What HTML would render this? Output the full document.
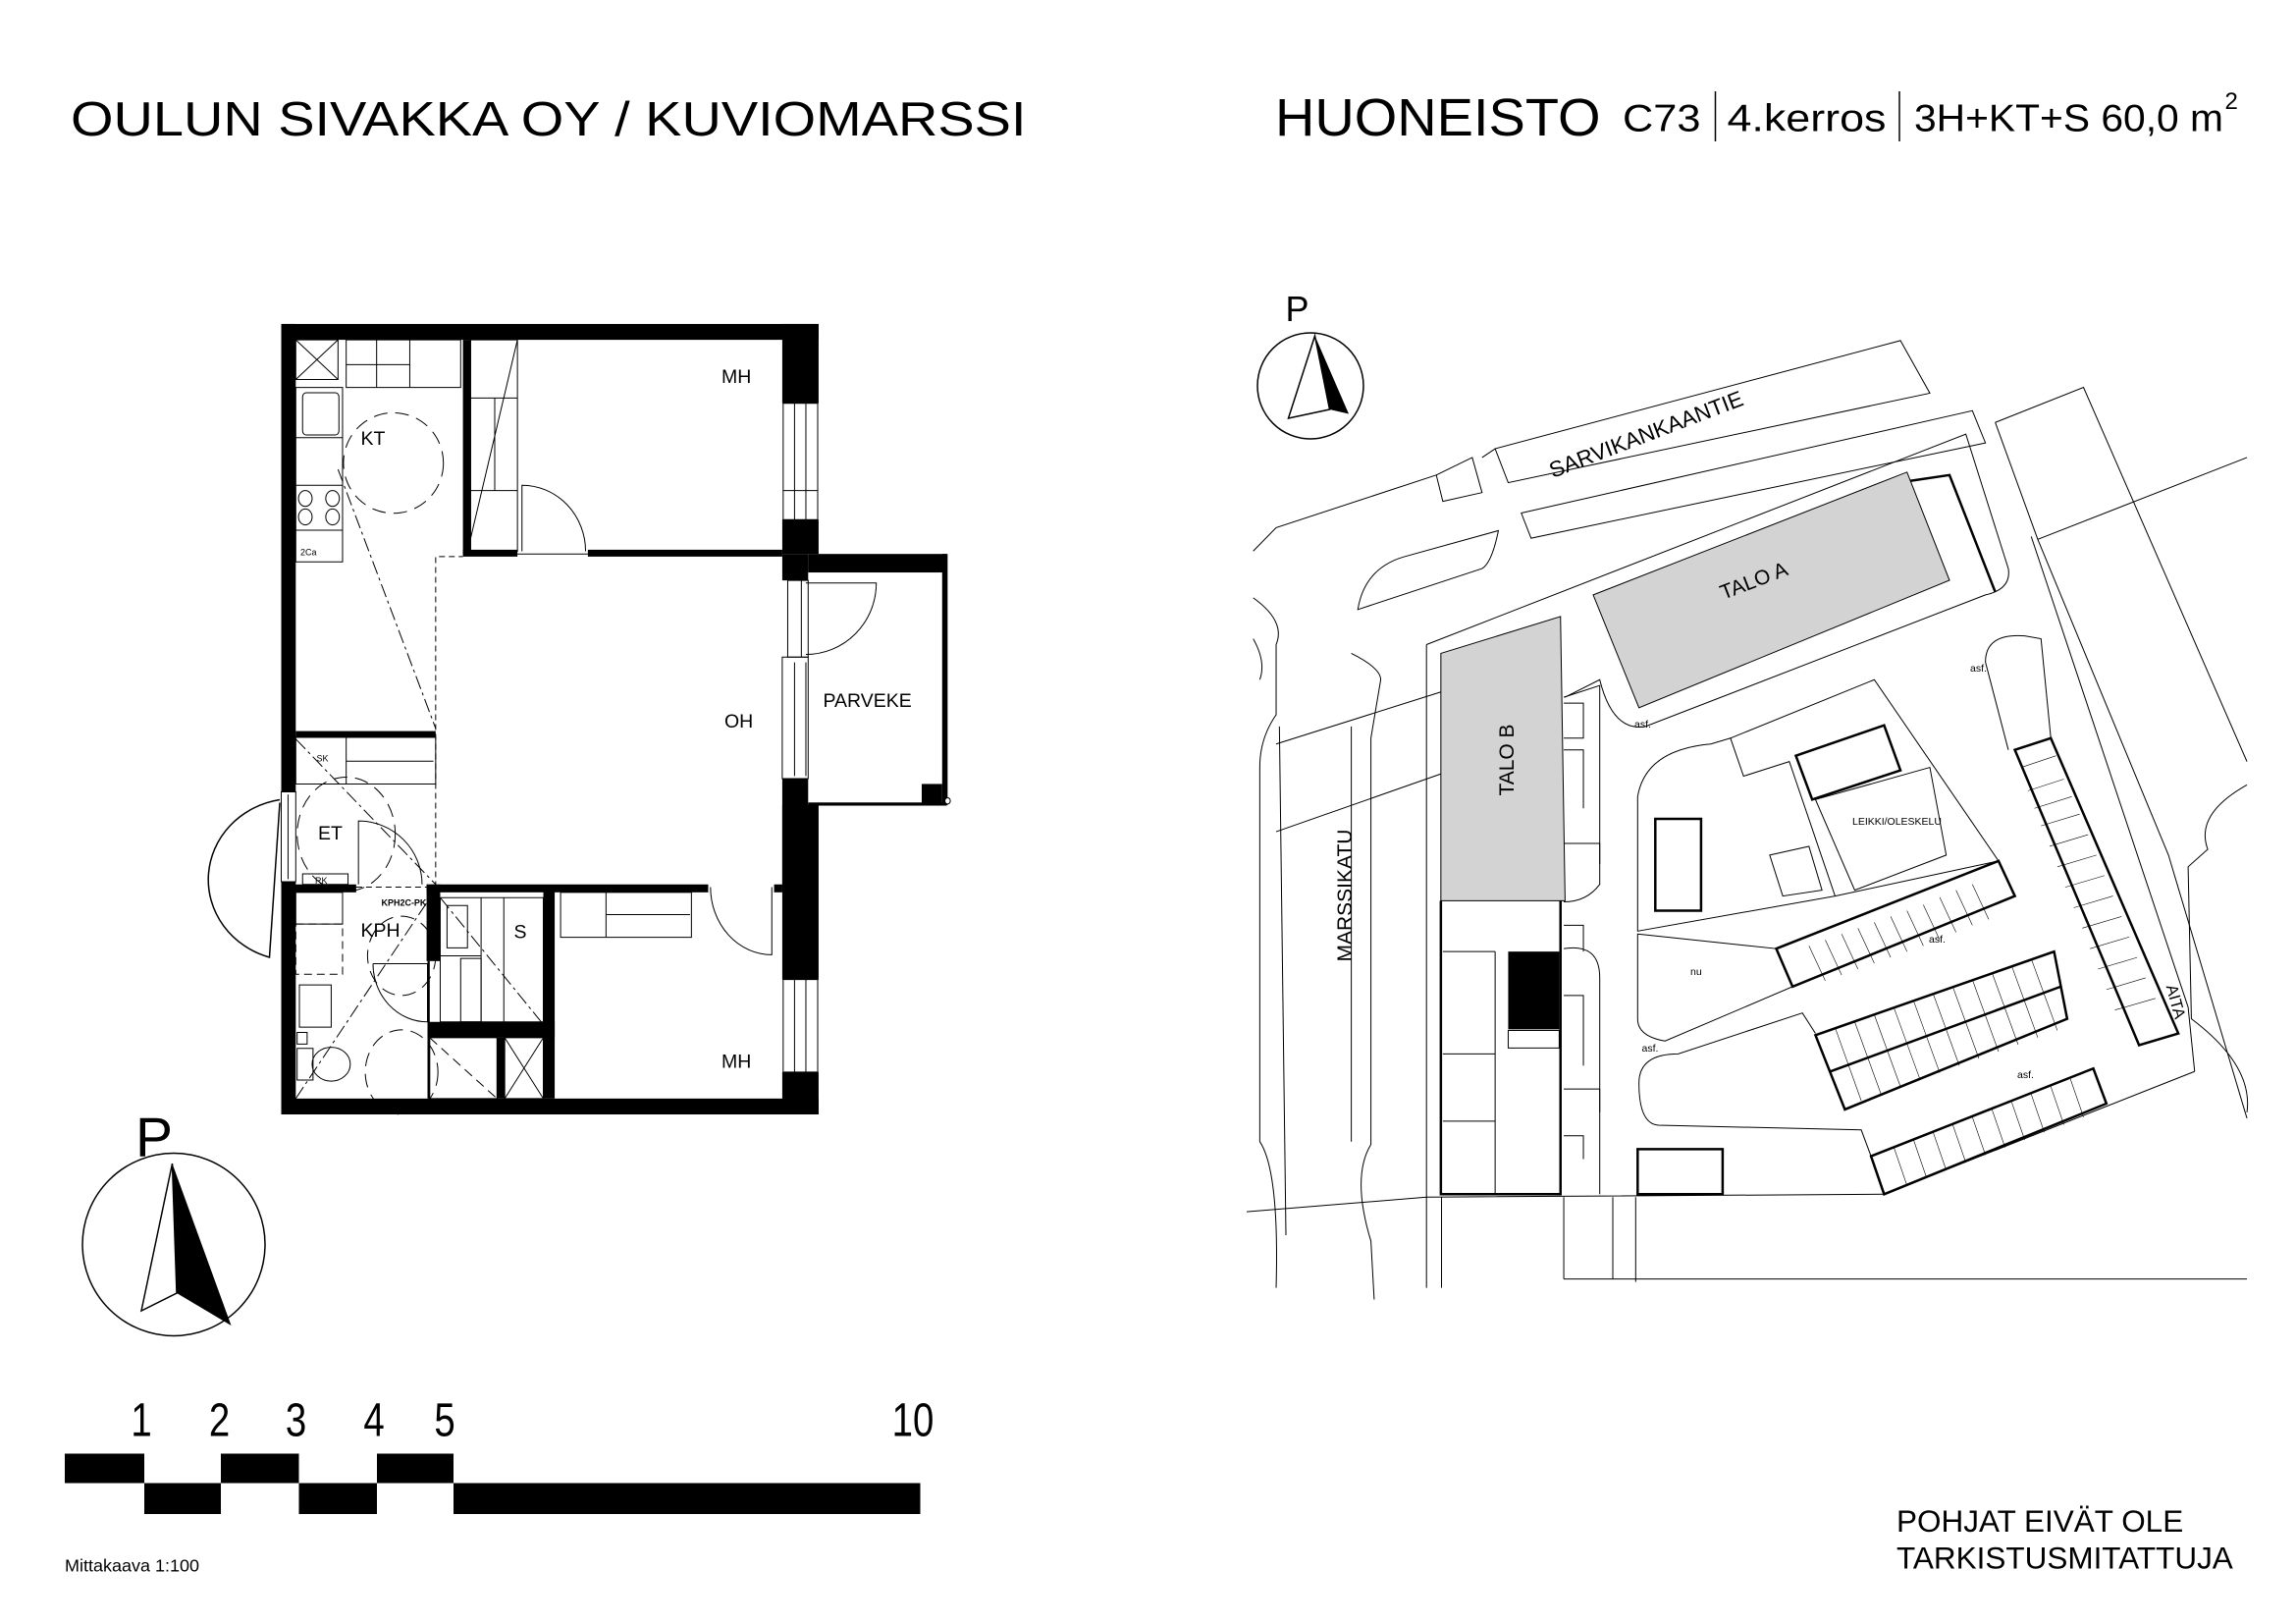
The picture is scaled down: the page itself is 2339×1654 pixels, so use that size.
<!DOCTYPE html>
<html><head><meta charset="utf-8"><style>
html,body{margin:0;padding:0;background:#fff}
svg{display:block}
text{font-family:"Liberation Sans",sans-serif;fill:#000}
</style></head><body>
<svg width="2339" height="1654" viewBox="0 0 1559.33 1102.67" xmlns="http://www.w3.org/2000/svg">
<rect width="1559.33" height="1102.67" fill="#fff"/>
<text x="48" y="92" font-size="33" textLength="649" lengthAdjust="spacingAndGlyphs">OULUN SIVAKKA OY / KUVIOMARSSI</text>
<text x="866" y="92" font-size="36" textLength="221" lengthAdjust="spacingAndGlyphs">HUONEISTO</text>
<text x="1102" y="89" font-size="26" textLength="53" lengthAdjust="spacingAndGlyphs">C73</text>
<line x1="1165" y1="62" x2="1165" y2="96" stroke="#000" stroke-width="1"/>
<text x="1173" y="89" font-size="26" textLength="108" lengthAdjust="spacingAndGlyphs">4.kerros</text>
<line x1="1290" y1="62" x2="1290" y2="96" stroke="#000" stroke-width="1"/>
<text x="1300" y="89" font-size="26" textLength="210" lengthAdjust="spacingAndGlyphs">3H+KT+S 60,0 m</text>
<text x="1511" y="74" font-size="16">2</text>

<g transform="translate(180.2,207.4) scale(0.3085,0.359)" fill="none" stroke="#000">
 <g fill="#000" stroke="none">
  <rect x="35" y="35" width="1183" height="30"/>
  <rect x="35" y="35" width="32" height="885"/>
  <rect x="35" y="1090" width="32" height="440"/>
  <rect x="35" y="1500" width="1183" height="30"/>
  <rect x="1138" y="35" width="80" height="150"/>
  <rect x="1138" y="405" width="80" height="65"/>
  <rect x="1138" y="470" width="57" height="50"/>
  <rect x="1138" y="895" width="57" height="205"/>
  <rect x="1138" y="945" width="80" height="330"/>
  <rect x="1138" y="1450" width="80" height="80"/>
  <rect x="1195" y="470" width="305" height="35"/>
  <rect x="1490" y="470" width="12" height="475"/>
  <rect x="1195" y="940" width="305" height="6"/>
  <rect x="1445" y="905" width="45" height="40"/>
  <rect x="435" y="65" width="17" height="405"/>
  <rect x="435" y="462" width="120" height="13"/>
  <rect x="710" y="462" width="428" height="13"/>
  <rect x="67" y="805" width="308" height="12"/>
  <rect x="35" y="1095" width="165" height="15"/>
  <rect x="355" y="1095" width="620" height="15"/>
  <rect x="1120" y="1095" width="18" height="15"/>
  <rect x="355" y="1095" width="30" height="145"/>
  <rect x="357" y="1355" width="280" height="30"/>
  <rect x="612" y="1100" width="25" height="400"/>
  <rect x="357" y="1240" width="5" height="260"/>
  <rect x="510" y="1385" width="17" height="115"/>
 </g>
 <g stroke-width="1">
  <rect x="1140" y="185" width="76" height="220" fill="#fff" vector-effect="non-scaling-stroke"/>
  <line x1="1165" y1="185" x2="1165" y2="405" vector-effect="non-scaling-stroke"/><line x1="1190" y1="185" x2="1190" y2="405" vector-effect="non-scaling-stroke"/>
  <line x1="1140" y1="350" x2="1216" y2="350" vector-effect="non-scaling-stroke"/>
  <rect x="1140" y="1275" width="76" height="175" fill="#fff" vector-effect="non-scaling-stroke"/>
  <line x1="1165" y1="1275" x2="1165" y2="1450" vector-effect="non-scaling-stroke"/><line x1="1190" y1="1275" x2="1190" y2="1450" vector-effect="non-scaling-stroke"/>
  <rect x="1150" y="520" width="45" height="145" vector-effect="non-scaling-stroke"/>
  <line x1="1180" y1="520" x2="1180" y2="665" vector-effect="non-scaling-stroke"/>
  <rect x="1138" y="665" width="57" height="230" vector-effect="non-scaling-stroke"/>
  <line x1="1165" y1="675" x2="1165" y2="890" vector-effect="non-scaling-stroke"/><line x1="1190" y1="675" x2="1190" y2="890" vector-effect="non-scaling-stroke"/>
  <rect x="35" y="920" width="32" height="170" vector-effect="non-scaling-stroke"/>
  <line x1="50" y1="925" x2="50" y2="1085" vector-effect="non-scaling-stroke"/>
  <circle cx="1502" cy="937" r="6" fill="#fff" vector-effect="non-scaling-stroke"/>
  <path d="M375,1100 V475 H435 M200,1100 H355" stroke-dasharray="6 4" vector-effect="non-scaling-stroke"/>
  <path d="M565,465 V340 A140,125 0 0 1 705,465 M555,470 H710" vector-effect="non-scaling-stroke"/>
  <path d="M1190,525 H1345 A155,135 0 0 1 1190,660" vector-effect="non-scaling-stroke"/>
  <path d="M205,1095 V975 A140,120 0 0 1 345,1095" vector-effect="non-scaling-stroke"/>
  <path d="M980,1100 A135,128 0 0 0 1115,1228 V1100" vector-effect="non-scaling-stroke"/>
  <path d="M237,1245 H357 V1355 A120,110 0 0 1 237,1245" vector-effect="non-scaling-stroke"/>
  <rect x="67" y="65" width="93" height="75" vector-effect="non-scaling-stroke"/>
  <path d="M67,65 L160,140 M160,65 L67,140" vector-effect="non-scaling-stroke"/>
  <rect x="178" y="65" width="252" height="90" vector-effect="non-scaling-stroke"/>
  <path d="M245,65 V155 M318,65 V155 M178,112 H318" vector-effect="non-scaling-stroke"/>
  <rect x="67" y="155" width="103" height="330" vector-effect="non-scaling-stroke"/>
  <path d="M67,250 H170 M67,340 H170 M67,425 H170" vector-effect="non-scaling-stroke"/>
  <rect x="82" y="165" width="80" height="80" rx="8" vector-effect="non-scaling-stroke"/>
  <circle cx="88" cy="365" r="15" vector-effect="non-scaling-stroke"/><circle cx="148" cy="365" r="15" vector-effect="non-scaling-stroke"/>
  <circle cx="88" cy="400" r="15" vector-effect="non-scaling-stroke"/><circle cx="148" cy="400" r="15" vector-effect="non-scaling-stroke"/>
  <ellipse cx="282" cy="298" rx="110" ry="95" stroke-dasharray="14 8" vector-effect="non-scaling-stroke"/>
  <rect x="452" y="65" width="103" height="400" vector-effect="non-scaling-stroke"/>
  <path d="M452,175 H555 M452,350 H555 M555,65 L452,440 M505,175 V350" vector-effect="non-scaling-stroke"/>
  <path d="M160,310 L375,800" stroke-dasharray="14 4 3 4" vector-effect="non-scaling-stroke"/>
  <rect x="67" y="817" width="308" height="88" vector-effect="non-scaling-stroke"/>
  <path d="M178,817 V905 M178,862 H370" vector-effect="non-scaling-stroke"/>
  <path d="M67,820 L375,1095" stroke-dasharray="14 4 3 4" vector-effect="non-scaling-stroke"/>
  <circle cx="178" cy="1000" r="108" stroke-dasharray="14 8" vector-effect="non-scaling-stroke"/>
  <rect x="82" y="1075" width="100" height="20" vector-effect="non-scaling-stroke"/>
  <rect x="67" y="1110" width="103" height="60" vector-effect="non-scaling-stroke"/>
  <rect x="67" y="1170" width="103" height="95" stroke-dasharray="8 5" vector-effect="non-scaling-stroke"/>
  <rect x="75" y="1285" width="70" height="80" vector-effect="non-scaling-stroke"/>
  <rect x="70" y="1375" width="22" height="22" vector-effect="non-scaling-stroke"/>
  <rect x="70" y="1405" width="35" height="60" vector-effect="non-scaling-stroke"/>
  <ellipse cx="145" cy="1435" rx="42" ry="32" vector-effect="non-scaling-stroke"/>
  <path d="M67,1500 L355,1130" stroke-dasharray="14 4 3 4" vector-effect="non-scaling-stroke"/>
  <circle cx="300" cy="1450" r="80" stroke-dasharray="14 8" vector-effect="non-scaling-stroke"/>
  <circle cx="300" cy="1230" r="75" stroke-dasharray="14 8" vector-effect="non-scaling-stroke"/>
  <rect x="385" y="1120" width="227" height="235" vector-effect="non-scaling-stroke"/>
  <path d="M475,1120 V1355 M525,1120 V1355 M385,1230 H475" vector-effect="non-scaling-stroke"/>
  <rect x="400" y="1135" width="45" height="80" vector-effect="non-scaling-stroke"/>
  <rect x="430" y="1235" width="45" height="120" vector-effect="non-scaling-stroke"/>
  <path d="M385,1120 L612,1360" stroke-dasharray="14 4 3 4" vector-effect="non-scaling-stroke"/>
  <rect x="362" y="1385" width="148" height="115" vector-effect="non-scaling-stroke"/>
  <path d="M362,1385 L510,1500" stroke-dasharray="10 6" vector-effect="non-scaling-stroke"/>
  <rect x="527" y="1385" width="85" height="115" vector-effect="non-scaling-stroke"/>
  <path d="M527,1385 L612,1500 M612,1385 L527,1500" vector-effect="non-scaling-stroke"/>
  <rect x="650" y="1110" width="288" height="85" vector-effect="non-scaling-stroke"/>
  <path d="M750,1110 V1195 M750,1152 H935" vector-effect="non-scaling-stroke"/>
 </g>
</g>
<path d="M190,543 A58,55 0 0 0 183,650 L190,545" fill="none" stroke="#000" stroke-width="1"/>
<g font-size="13">
<text x="490" y="260">MH</text>
<text x="245" y="302">KT</text>
<text x="492" y="494">OH</text>
<text x="559" y="480">PARVEKE</text>
<text x="216" y="570">ET</text>
<text x="245" y="636">KPH</text>
<text x="349" y="637">S</text>
<text x="490" y="725">MH</text>
</g>
<g font-size="6">
<text x="215" y="517">SK</text><text x="214" y="600">RK</text><text x="204" y="377">2Ca</text>
<text x="259" y="615" font-weight="bold">KPH2C-PK</text>
</g>

<text x="92" y="785" font-size="38">P</text>
<circle cx="118" cy="845" r="62" fill="none" stroke="#000" stroke-width="1"/>
<polygon points="117,790 157,900 120,878" fill="#000"/>
<polygon points="117,790 120,878 96,890" fill="none" stroke="#000" stroke-width="1"/>
<g fill="#000">
<rect x="44" y="987" width="54" height="20"/><rect x="150" y="987" width="53" height="20"/><rect x="256" y="987" width="52" height="20"/>
<rect x="98" y="1007" width="52" height="21"/><rect x="203" y="1007" width="53" height="21"/><rect x="308" y="1007" width="317" height="21"/>
</g>
<g font-size="32" text-anchor="middle">
<text x="96" y="975" transform="translate(96,0) scale(0.8,1) translate(-96,0)">1</text>
<text x="149" y="975" transform="translate(149,0) scale(0.8,1) translate(-149,0)">2</text>
<text x="201" y="975" transform="translate(201,0) scale(0.8,1) translate(-201,0)">3</text>
<text x="254" y="975" transform="translate(254,0) scale(0.8,1) translate(-254,0)">4</text>
<text x="302" y="975" transform="translate(302,0) scale(0.8,1) translate(-302,0)">5</text>
<text x="620" y="975" transform="translate(620,0) scale(0.8,1) translate(-620,0)">10</text>
</g>
<text x="44" y="1067" font-size="12">Mittakaava 1:100</text>

<text x="873" y="218" font-size="24">P</text>
<circle cx="890" cy="262" r="36" fill="none" stroke="#000" stroke-width="1"/>
<polygon points="893,228 916,281 903,278" fill="#000"/>
<polygon points="893,228 903,278 875,284" fill="none" stroke="#000" stroke-width="1"/>

<g transform="translate(846.7,263) scale(0.444,0.397)" fill="none" stroke="#000">
 <g stroke-width="1">
  <path vector-effect="non-scaling-stroke" d="M380,105 L1000,-80 L1045,10 L400,163 Z"/>
  <path vector-effect="non-scaling-stroke" d="M290,150 L345,120 L360,180 L300,195 Z"/>
  <path vector-effect="non-scaling-stroke" d="M10,280 L45,240 L290,150 M360,120 L380,105"/>
  <path vector-effect="non-scaling-stroke" d="M420,215 L1110,40 L1130,95 L435,258 Z"/>
  <path vector-effect="non-scaling-stroke" d="M170,380 Q180,310 240,290 L385,245 Q375,300 360,310 Z"/>
  <path vector-effect="non-scaling-stroke" d="M10,360 Q60,400 45,440 L45,560 Q20,600 20,650 L20,1290 Q50,1340 45,1540"/>
  <path vector-effect="non-scaling-stroke" d="M160,455 Q205,480 205,500 L190,600 L190,1295 Q160,1350 190,1460 L195,1560"/>
  <path vector-effect="non-scaling-stroke" d="M50,580 L60,1450 M160,580 L160,1290"/>
  <path vector-effect="non-scaling-stroke" d="M10,430 Q30,470 20,500 M45,760 L300,660 M45,610 L300,520"/>
  <path vector-effect="non-scaling-stroke" d="M275,440 L1100,80 L1165,310 Q1170,345 1130,355 L610,580 Q560,590 540,500 L487,530"/>
  <path vector-effect="non-scaling-stroke" d="M275,440 L275,1540 M298,1385 L298,1540 M485,1385 L485,1525 M560,1385 L560,1525 M595,1385 L595,1530"/>
  <path vector-effect="non-scaling-stroke" d="M1145,60 L1280,0 L1530,640 M1145,60 L1210,260 L1410,800 L1530,1250 M1210,260 L1530,120"/>
  <path vector-effect="non-scaling-stroke" d="M1530,680 Q1450,730 1470,790 L1440,820 L1445,1080 Q1540,1160 1530,1240"/>
  <path vector-effect="non-scaling-stroke" d="M1200,255 L1440,1060 L1450,1170"/>
  <path vector-effect="non-scaling-stroke" d="M0,1410 L275,1385 L975,1380 L1450,1170 M485,1525 L1530,1525"/>
  <path vector-effect="non-scaling-stroke" d="M1130,470 Q1130,420 1190,425 L1215,430 L1230,600 M1130,470 L1165,620"/>
  <path vector-effect="non-scaling-stroke" d="M598,700 Q610,620 710,610 L740,600 L760,665 L830,640 L900,870 L598,930 Z"/>
  <path vector-effect="non-scaling-stroke" d="M740,600 L960,500 L1150,810 M900,870 L1150,810"/>
  <path vector-effect="non-scaling-stroke" d="M870,705 L1045,650 L1070,800 L930,860 Z M800,800 L860,785 L880,860 L820,870 Z"/>
  <path vector-effect="non-scaling-stroke" d="M598,935 L810,960 L835,1025 L640,1118 Q598,1110 598,1080 Z"/>
  <path vector-effect="non-scaling-stroke" d="M600,1190 Q600,1260 630,1262 L940,1270 L955,1315 M600,1190 Q600,1140 660,1140 L850,1070 L870,1105"/>
  <path vector-effect="non-scaling-stroke" d="M485,530 L540,510 L540,850 Q520,880 485,880 M485,960 Q540,950 540,1010 L540,1380"/>
  <path vector-effect="non-scaling-stroke" d="M485,540 L515,540 L515,600 L485,600 M485,620 L515,620 L515,720 M485,780 L540,780 L540,815 M485,920 L515,920 L515,965 M485,1040 L515,1040 L515,1160 M485,1200 L540,1200 L540,1240 M485,1280 L515,1280 L515,1320"/>
  <path vector-effect="non-scaling-stroke" d="M380,965 L380,1380 M380,1255 L300,1255 M300,965 L380,965 M300,1140 L380,1140 M400,1100 L478,1100 L478,1130 L400,1130 Z"/>
 </g>
 <polygon points="297,455 480,392 487,878 297,878" fill="#d3d3d3" stroke="#000" stroke-width="1" vector-effect="non-scaling-stroke"/>
 <polygon points="530,355 1010,145 1075,330 600,548" fill="#d3d3d3" stroke="#000" stroke-width="1" vector-effect="non-scaling-stroke"/>
 <path d="M1015,160 L1075,150 L1145,350" stroke-width="2.5" vector-effect="non-scaling-stroke"/>
 <path d="M297,878 L297,1380 L480,1380 L480,878" stroke-width="2.5" vector-effect="non-scaling-stroke"/>
 <rect x="400" y="965" width="78" height="133" fill="#000" stroke="none"/>
 <g stroke-width="2.5">
  <polygon vector-effect="non-scaling-stroke" points="810,960 1150,810 1175,870 835,1025"/>
  <polygon vector-effect="non-scaling-stroke" points="870,1108 1235,965 1255,1080 915,1235"/>
  <line vector-effect="non-scaling-stroke" x1="893" y1="1170" x2="1245" y2="1025"/>
  <polygon vector-effect="non-scaling-stroke" points="955,1315 1295,1165 1315,1225 975,1380"/>
  <polygon vector-effect="non-scaling-stroke" points="1175,620 1230,600 1425,1105 1365,1125"/>
  <polygon vector-effect="non-scaling-stroke" points="840,630 975,578 1000,655 865,705"/>
  <rect vector-effect="non-scaling-stroke" x="625" y="738" width="70" height="157"/>
  <rect vector-effect="non-scaling-stroke" x="598" y="1303" width="130" height="77"/>
 </g>
 <g stroke-width="0.6">
  <path vector-effect="non-scaling-stroke" d="M860,955 L885,1015 M885,945 L910,1005 M910,935 L935,995 M935,925 L960,985 M960,915 L985,975 M985,905 L1010,965 M1010,895 L1035,955 M1035,885 L1060,945 M1060,872 L1085,932 M1085,860 L1110,920 M1110,850 L1135,910"/>
  <path vector-effect="non-scaling-stroke" d="M900,1095 L940,1220 M930,1085 L970,1208 M960,1073 L1000,1196 M990,1061 L1030,1184 M1020,1049 L1060,1172 M1050,1037 L1090,1160 M1080,1025 L1120,1148 M1110,1013 L1150,1136 M1140,1001 L1180,1124 M1170,989 L1210,1112 M1200,977 L1240,1100"/>
  <path vector-effect="non-scaling-stroke" d="M990,1300 L1010,1365 M1020,1287 L1040,1352 M1050,1274 L1070,1339 M1080,1261 L1100,1326 M1110,1248 L1130,1313 M1140,1235 L1160,1300 M1170,1222 L1190,1287 M1200,1209 L1220,1274 M1230,1196 L1250,1261 M1260,1183 L1280,1248"/>
  <path vector-effect="non-scaling-stroke" d="M1185,650 L1238,630 M1195,690 L1250,670 M1205,720 L1262,700 M1215,750 L1274,730 M1228,785 L1287,765 M1240,820 L1300,800 M1252,855 L1312,835 M1265,890 L1325,870 M1278,925 L1338,905 M1290,960 L1350,940 M1302,995 L1362,975 M1315,1030 L1375,1010 M1328,1065 L1390,1045"/>
 </g>
</g>
<g font-size="15">
<text x="1118" y="300" text-anchor="middle" transform="rotate(-21 1118 295)">SARVIKANKAANTIE</text>
<text x="1191" y="399" text-anchor="middle" font-size="14" transform="rotate(-21 1191 394)">TALO A</text>
<text x="1024" y="520" text-anchor="middle" font-size="14" transform="rotate(-90 1024 516)">TALO B</text>
<text x="914" y="612" text-anchor="middle" font-size="14" transform="rotate(-90 914 608)">MARSSIKATU</text>
<text x="1478" y="684" text-anchor="middle" font-size="11" transform="rotate(75 1478 680)">AITA</text>
</g>
<g font-size="7">
<text x="1258" y="560">LEIKKI/OLESKELU</text>
<text x="1148" y="662">nu</text>
<text x="1110" y="494">asf.</text><text x="1310" y="640">asf.</text><text x="1115" y="714">asf.</text><text x="1370" y="732">asf.</text><text x="1338" y="456">asf.</text>
</g>
<text x="1288" y="1040" font-size="21">POHJAT EIVÄT OLE</text>
<text x="1288" y="1065" font-size="21">TARKISTUSMITATTUJA</text>
</svg>
</body></html>
